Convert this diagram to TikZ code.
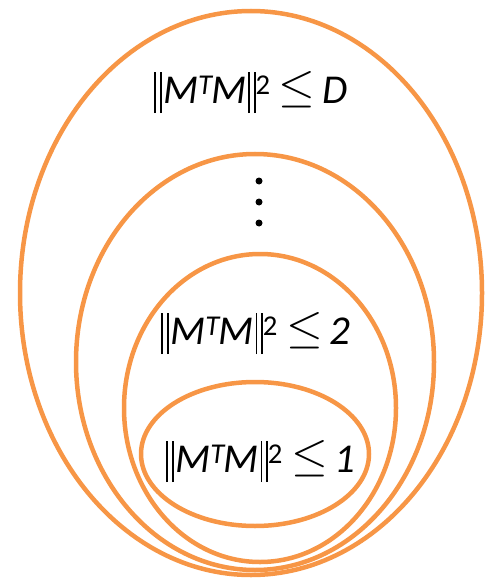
\documentclass[tikz,border=0pt]{standalone}
\usepackage{fontspec}
\setmainfont{Carlito}
\definecolor{ringorange}{HTML}{F79646}
\begin{document}
\begin{tikzpicture}[x=1pt,y=-1pt,
  ring/.style={draw=ringorange,line width=4.5pt},
  lbl/.style={font=\fontsize{41}{44}\selectfont,inner sep=0pt},
  dot/.style={fill=black,circle,inner sep=0pt,minimum size=7pt}]
\useasboundingbox (0,0) rectangle (491,580);
% nested constraint regions
\draw[ring] (251,293) ellipse [x radius=231,y radius=282];
\draw[ring] (255,362) ellipse [x radius=179,y radius=208];
\draw[ring] (260,408) ellipse [x radius=136,y radius=154];
\draw[ring] (255,454) ellipse [x radius=114,y radius=72];
% labels: double norm bars, superscripts, less-or-equal sign
\newcommand{\onebar}{\rule[-10pt]{1.6pt}{41pt}}
\newcommand{\dbar}{\onebar\hspace{4.2pt}\onebar}
\newcommand{\normsq}[1]{\dbar\hspace{1.5pt}\textit{M}\textsuperscript{\textit{T}}\kern-0.05em\textit{M}\hspace{1.5pt}\dbar\textsuperscript{2}\hspace{8pt}\raisebox{2pt}{\scalebox{1.9}{$\leq$}}\hspace{7pt}\textit{#1}}
\node[lbl] (outerlbl) at (251,92) {\normsq{D}};
\node[lbl] (midlbl) at (256,333) {\normsq{2}};
\node[lbl] (innerlbl) at (261,461) {\normsq{1}};
% ellipsis dots
\node[dot] (d1) at (259,181) {};
\node[dot] (d2) at (259,202) {};
\node[dot] (d3) at (259,223) {};
\end{tikzpicture}
\end{document}
